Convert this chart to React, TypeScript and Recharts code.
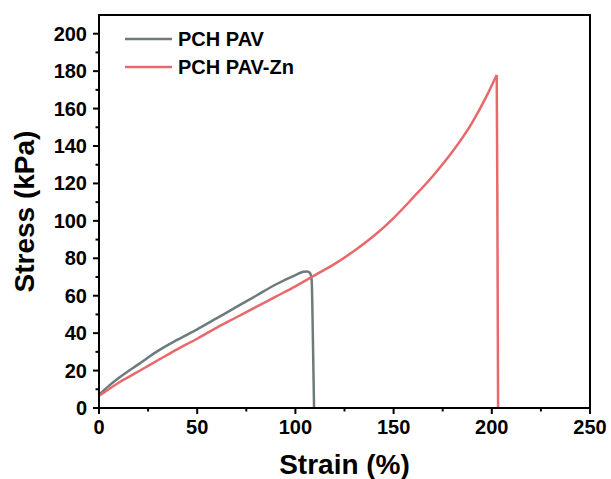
import React from 'react';
import {
  LineChart,
  Line,
  XAxis,
  YAxis,
  ReferenceArea,
} from 'recharts';

// strain (%) / stress (kPa)
const pavStrain = [0, 5, 10, 15, 20, 25, 30, 40, 50, 60, 70, 80, 90, 100, 104, 106, 107.5, 108.3, 108.7, 109.1, 109.5];
const pavStress = [7, 11.8, 16, 19.8, 23.3, 27, 30.5, 36.5, 42, 48, 54, 60, 66, 71, 72.8, 73, 72, 68, 50, 25, 0];

// PAV-Zn rising part, then the break at ~203 %
const znStrain = [0, 5, 10, 15, 20, 30, 40, 50, 60, 70, 80, 90, 100, 110, 120, 130, 140, 150, 160, 170, 180, 190, 197, 202.5];
const znStress = [6.5, 10, 13.5, 16.5, 19.5, 25.5, 31.5, 37, 43, 48.5, 54, 59.5, 65, 71, 77, 84, 92, 101.5, 112.5, 124, 137, 152.5, 166, 178];
const znBreakStrain = [202.5, 202.8, 203, 203.2];
const znBreakStress = [178, 120, 60, 0];

const xTicks = [0, 25, 50, 75, 100, 125, 150, 175, 200, 225, 250];
const yTicks = [0, 10, 20, 30, 40, 50, 60, 70, 80, 90, 100, 110, 120, 130, 140, 150, 160, 170, 180, 190, 200];

const seriesNames = ['PCH PAV', 'PCH PAV-Zn'];
const seriesColors = ['#6d7b7b', '#e9686c'];

const pavData = pavStrain.map((s, i) => ({ strain: s, stress: pavStress[i] }));
const znData = znStrain.map((s, i) => ({ strain: s, stress: znStress[i] }));
const znBreakData = znBreakStrain.map((s, i) => ({ strain: s, stress: znBreakStress[i] }));

const font = '"Liberation Sans", Arial, sans-serif';

const XTick = (props: any) => {
  const { x, y, payload } = props;
  const major = payload.value % 50 === 0;
  return (
    <g>
      <line x1={x} x2={x} y1={y} y2={y + (major ? 6 : 3.5)} stroke="#000" strokeWidth={2} />
      {major && (
        <text x={x} y={y + 26} textAnchor="middle" fontSize={20} fontWeight="bold" fontFamily={font} fill="#000">
          {payload.value}
        </text>
      )}
    </g>
  );
};

const YTick = (props: any) => {
  const { x, y, payload } = props;
  const major = payload.value % 20 === 0;
  return (
    <g>
      <line x1={x} x2={x - (major ? 6 : 3.5)} y1={y} y2={y} stroke="#000" strokeWidth={2} />
      {major && (
        <text x={x - 12} y={y + 7} textAnchor="end" fontSize={20} fontWeight="bold" fontFamily={font} fill="#000">
          {payload.value}
        </text>
      )}
    </g>
  );
};

const LegendBox = () => (
  <svg width={260} height={64} style={{ position: 'absolute', left: 125, top: 30 }}>
    {seriesNames.map((name, i) => (
      <g key={name}>
        <line x1={0} x2={47} y1={9 + i * 28} y2={9 + i * 28} stroke={seriesColors[i]} strokeWidth={2.5} />
        <text x={53} y={16 + i * 28} fontSize={20} fontWeight="bold" fontFamily={font} fill="#000">
          {name}
        </text>
      </g>
    ))}
  </svg>
);

export default function App() {
  return (
    <div style={{ position: 'absolute', left: 0, top: 0, width: 611, height: 479, background: '#fff' }}>
      <LineChart width={611} height={479} margin={{ top: 15, right: 21, left: 0, bottom: 0 }}>
        <XAxis
          dataKey="strain"
          type="number"
          domain={[0, 250]}
          ticks={xTicks}
          interval={0}
          height={71}
          tickSize={0}
          tickMargin={0}
          tick={<XTick />}
          axisLine={{ stroke: '#000', strokeWidth: 2 }}
          label={{ value: 'Strain (%)', position: 'insideBottom', offset: 5, fontSize: 28, fontWeight: 'bold', fontFamily: font, fill: '#000' }}
        />
        <YAxis
          dataKey="stress"
          type="number"
          domain={[0, 210]}
          ticks={yTicks}
          interval={0}
          width={99}
          tickSize={0}
          tickMargin={0}
          tick={<YTick />}
          axisLine={{ stroke: '#000', strokeWidth: 2 }}
          label={{ value: 'Stress (kPa)', angle: -90, position: 'insideLeft', offset: 24, fontSize: 28, fontWeight: 'bold', fontFamily: font, fill: '#000', style: { textAnchor: 'middle' } }}
        />
        <Line data={pavData} dataKey="stress" name={seriesNames[0]} type="monotone" stroke={seriesColors[0]} strokeWidth={2.5} dot={false} isAnimationActive={false} />
        <Line data={znData} dataKey="stress" name={seriesNames[1]} type="monotone" stroke={seriesColors[1]} strokeWidth={2.5} dot={false} isAnimationActive={false} />
        <Line data={znBreakData} dataKey="stress" name={seriesNames[1] + ' break'} type="linear" stroke={seriesColors[1]} strokeWidth={2.5} dot={false} isAnimationActive={false} legendType="none" />
        <ReferenceArea x1={0} x2={250} y1={0} y2={210} fill="none" stroke="#000" strokeWidth={2} ifOverflow="visible" />
      </LineChart>
      <LegendBox />
    </div>
  );
}
